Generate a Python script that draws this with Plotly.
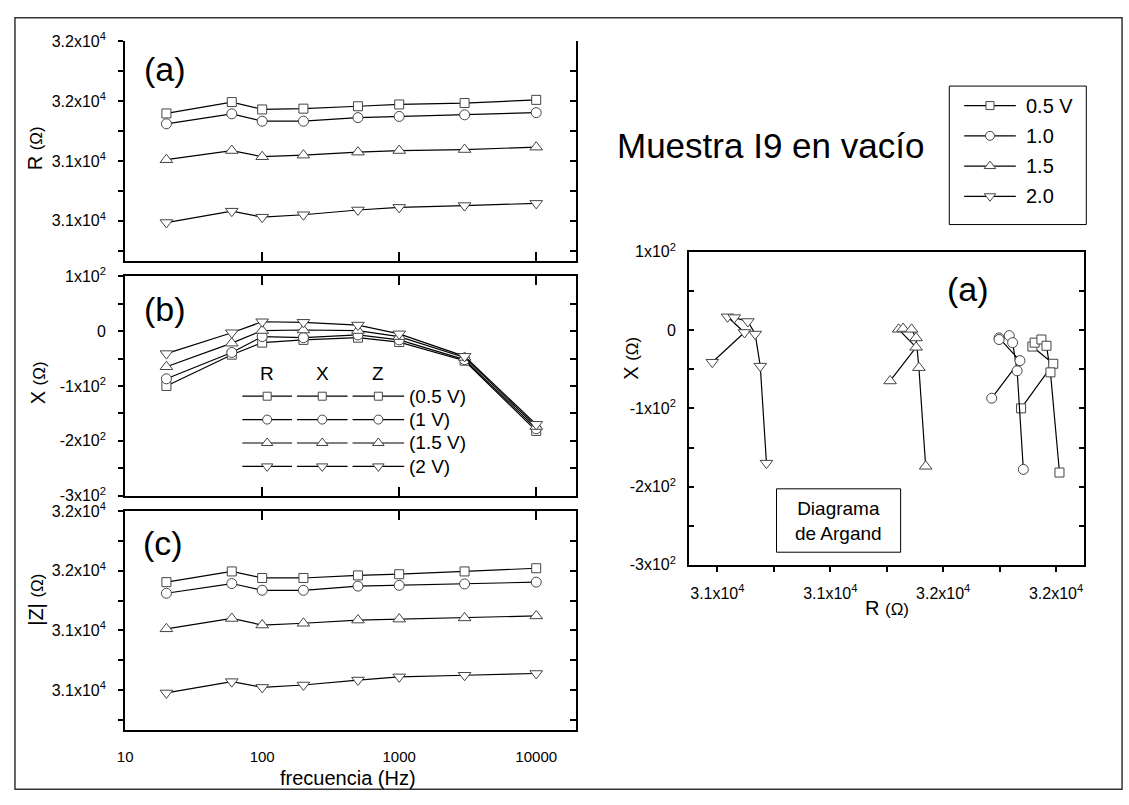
import plotly.graph_objects as go

W, H = 1129, 805

# ---- data ----
freq = [20, 60, 100, 200, 500, 1000, 3000, 10000]

R_05 = [31638, 31695, 31658, 31662, 31674, 31683, 31690, 31706]
R_10 = [31586, 31636, 31599, 31599, 31617, 31623, 31631, 31642]
R_15 = [31406, 31452, 31421, 31429, 31444, 31452, 31457, 31469]
R_20 = [31091, 31148, 31118, 31130, 31154, 31167, 31176, 31187]

X_05 = [-100, -43, -21, -16, -12, -20, -54, -182]
X_10 = [-87, -39, -10, -12, -7, -16, -52, -178]
X_15 = [-65, -22, 1, 2, 1, -10, -48, -174]
X_20 = [-41, -3, 17, 16, 11, -5, -46, -170]

Z_05 = [31643, 31697, 31664, 31664, 31677, 31683, 31697, 31713]
Z_10 = [31587, 31636, 31602, 31602, 31623, 31627, 31634, 31643]
Z_15 = [31408, 31460, 31427, 31436, 31452, 31457, 31463, 31473]
Z_20 = [31085, 31142, 31113, 31125, 31150, 31166, 31174, 31183]

legend_names = ['0.5 V', '1.0', '1.5', '2.0']
table_names = ['(0.5 V)', '(1 V)', '(1.5 V)', '(2 V)']
symbols = ['square', 'circle', 'triangle-up', 'triangle-down']
sizes = [9, 10, 11, 11]

R_ticks = [31100, 31400, 31700, 32000]
R_minor = [30950, 31250, 31550, 31850]
X_ticks = [-300, -200, -100, 0, 100]
X_minor = [-250, -150, -50, 50]
Arg_R_ticks = [31100, 31300, 31500, 31700]
Arg_R_minor = [31200, 31400, 31600]
f_ticks = [10, 100, 1000, 10000]

FONT = 'Liberation Sans, Arial, sans-serif'


def px(x):
    return x / W


def py(y):
    return 1 - y / H


def r_label(v):
    return f"{int(v / 1000 + 0.5) / 10:.1f}x10<sup>4</sup>"


def x_label(v):
    return '0' if v == 0 else f"{int(v / 100)}x10<sup>2</sup>"


series = list(zip(legend_names, symbols, sizes,
                  [R_05, R_10, R_15, R_20],
                  [X_05, X_10, X_15, X_20],
                  [Z_05, Z_10, Z_15, Z_20]))

fig = go.Figure()

line_style = dict(color='black', width=1.2)

for name, sym, sz, r, x, z in series:
    mk = dict(symbol=sym, size=sz, color='white', line=dict(color='#444', width=1))
    for xa, ya, yy in (('x', 'y', r), ('x2', 'y2', x), ('x3', 'y3', z)):
        fig.add_trace(go.Scatter(x=freq, y=yy, mode='lines+markers', marker=mk,
                                 line=line_style, xaxis=xa, yaxis=ya,
                                 showlegend=False, name=name))
    fig.add_trace(go.Scatter(x=r, y=x, mode='lines+markers', marker=mk,
                             line=line_style, xaxis='x4', yaxis='y4',
                             showlegend=False, name=name))

# empty traces so overlay axes get drawn
for xa, ya in (('x', 'y5'), ('x2', 'y6'), ('x3', 'y7'), ('x5', 'y3')):
    fig.add_trace(go.Scatter(x=[], y=[], xaxis=xa, yaxis=ya, showlegend=False))


# ---- legend samples drawn on a pixel helper axis ----
def sample(x0, x1, xm, yr, sym, sz):
    fig.add_trace(go.Scatter(x=[x0, x1], y=[yr, yr], mode='lines', line=line_style,
                             xaxis='x6', yaxis='y8', showlegend=False, hoverinfo='skip'))
    fig.add_trace(go.Scatter(x=[xm], y=[yr], mode='markers', xaxis='x6', yaxis='y8',
                             marker=dict(symbol=sym, size=sz, color='white',
                                         line=dict(color='#444', width=1)),
                             showlegend=False, hoverinfo='skip'))


annotations = []

# table legend inside panel (b)
tab_rows = [395, 419, 443, 467]
tab_cols = [(236, 286), (291, 342), (347, 399)]
for i, (name, sym, sz, *_rest) in enumerate(series):
    for c0, c1 in tab_cols:
        sample(c0, c1, (c0 + c1) / 2, tab_rows[i], sym, sz - 1)
    annotations.append(dict(x=px(402), y=py(tab_rows[i]), text=table_names[i],
                            xanchor='left', yanchor='middle', font=dict(size=19)))
for hdr, (c0, c1) in zip(['R', 'X', 'Z'], tab_cols):
    annotations.append(dict(x=px((c0 + c1) / 2), y=py(372), text=hdr,
                            xanchor='center', yanchor='middle', font=dict(size=19)))

# main legend box
leg_rows = [97, 128, 159, 190]
for i, (name, sym, sz, *_rest) in enumerate(series):
    sample(963, 1015, 989, leg_rows[i], sym, sz - 1)
    annotations.append(dict(x=px(1023), y=py(leg_rows[i]), text=name,
                            xanchor='left', yanchor='middle', font=dict(size=20)))

# panel labels and titles
for txt, x, y in (('(a)', 158, 59), ('(b)', 158, 306), ('(c)', 156, 546), ('(a)', 967, 285)):
    annotations.append(dict(x=px(x), y=py(y), text=txt, xanchor='center',
                            yanchor='middle', font=dict(size=34)))

annotations.append(dict(x=px(768), y=py(138), text='Muestra I9 en vacío',
                        xanchor='center', yanchor='middle', font=dict(size=35)))
annotations.append(dict(x=px(836), y=py(523), text='Diagrama<br>de Argand',
                        xanchor='center', yanchor='middle', font=dict(size=19)))

om = "<span style='font-size:17px'>(Ω)</span>"
for txt, x, y in (('R ' + om, 28, 141), ('X ' + om, 30, 381), ('|Z| ' + om, 28, 604),
                  ('X ' + om, 628, 356)):
    annotations.append(dict(x=px(x), y=py(y), text=txt, textangle=-90,
                            xanchor='center', yanchor='middle', font=dict(size=20)))
annotations.append(dict(x=px(342), y=py(787), text='frecuencia (Hz)',
                        xanchor='center', yanchor='middle', font=dict(size=20)))
annotations.append(dict(x=px(885), y=py(612), text='R ' + om,
                        xanchor='center', yanchor='middle', font=dict(size=20)))

for a in annotations:
    a.update(xref='paper', yref='paper', showarrow=False)

shapes = [
    dict(type='rect', xref='paper', yref='paper', x0=px(774), x1=px(899),
         y0=py(555), y1=py(490), line=dict(color='black', width=1), fillcolor='white',
         layer='below'),
    dict(type='rect', xref='paper', yref='paper', x0=px(948), x1=px(1086),
         y0=py(219), y1=py(77), line=dict(color='black', width=1)),
    dict(type='rect', xref='paper', yref='paper', x0=px(7), x1=px(1122),
         y0=py(798), y1=py(7), line=dict(color='#333', width=1.5)),
]

# ---- axes ----
left_x = [px(118), px(572)]
dom_a = [py(256), py(31)]
dom_b = [py(497), py(272)]
dom_c = [py(737), py(513)]

base = dict(showgrid=False, zeroline=False, showline=True, linecolor='black',
            linewidth=2, tickcolor='black', tickwidth=1.5,
            tickfont=dict(size=16, color='black'))

xlog = dict(base, type='log', range=[1, 4.29], domain=left_x, tickvals=f_ticks,
            ticktext=[str(v) for v in f_ticks], tickfont=dict(size=15, color='black'))

yR = dict(base, range=[30900, 32000], tickvals=R_ticks,
          ticktext=[r_label(v) for v in R_ticks])
yX = dict(base, range=[-300, 100], tickvals=X_ticks,
          ticktext=[x_label(v) for v in X_ticks])


def left_y(d, dom, anchor, minor):
    return dict(d, domain=dom, anchor=anchor, ticks='outside', ticklen=5,
                ticklabelstandoff=9, mirror=True,
                minor=dict(tickvals=minor, ticks='outside', ticklen=5,
                           tickcolor='black', tickwidth=1.5))


def right_y(d, over, anchor, minor):
    return dict(d, overlaying=over, side='right', anchor=anchor, ticks='inside',
                ticklen=6, showticklabels=False, showline=False,
                minor=dict(tickvals=minor, ticks='inside', ticklen=6,
                           tickcolor='black', tickwidth=1.5))


layout = dict(
    width=W, height=H, margin=dict(l=0, r=0, t=0, b=0),
    paper_bgcolor='white', plot_bgcolor='rgba(0,0,0,0)',
    font=dict(family=FONT, color='black'),
    showlegend=False,
    annotations=annotations, shapes=shapes,
    xaxis=dict(xlog, anchor='y', ticks='inside', ticklen=9, showticklabels=False),
    xaxis2=dict(xlog, anchor='y2', ticks='inside', ticklen=9, mirror='ticks',
                showticklabels=False),
    xaxis3=dict(xlog, anchor='y3', ticks='', mirror=True, ticklabelstandoff=12),
    xaxis5=dict(xlog, anchor='y3', overlaying='x3', side='top', ticks='inside',
                ticklen=9, showticklabels=False, showline=False),
    yaxis=left_y(yR, dom_a, 'x', R_minor),
    yaxis2=left_y(yX, dom_b, 'x2', X_minor),
    yaxis3=left_y(yR, dom_c, 'x3', R_minor),
    yaxis5=right_y(yR, 'y', 'x', R_minor),
    yaxis6=right_y(yX, 'y2', 'x2', X_minor),
    yaxis7=right_y(yR, 'y3', 'x3', R_minor),
    xaxis4=dict(base, domain=[px(686), px(1084)], anchor='y4', range=[31050, 31750],
                tickvals=Arg_R_ticks, ticktext=[r_label(v) for v in Arg_R_ticks],
                ticks='outside', ticklen=5, mirror=True, ticklabelstandoff=8,
                minor=dict(tickvals=Arg_R_minor, ticks='outside', ticklen=5,
                           tickcolor='black', tickwidth=1.5)),
    yaxis4=dict(yX, domain=[py(568), py(247)], anchor='x4', ticks='inside', ticklen=5,
                mirror='ticks', ticklabelstandoff=8,
                minor=dict(tickvals=X_minor, ticks='inside', ticklen=5,
                           tickcolor='black', tickwidth=1.5)),
    xaxis6=dict(domain=[0, 1], range=[0, W], visible=False, anchor='y8', fixedrange=True),
    yaxis8=dict(domain=[0, 1], range=[H, 0], visible=False, anchor='x6', fixedrange=True),
)

fig.update_layout(layout)
fig.write_html("out.html", config={'displayModeBar': False},
               post_script="document.body.style.margin='0';document.body.style.overflow='hidden';")
